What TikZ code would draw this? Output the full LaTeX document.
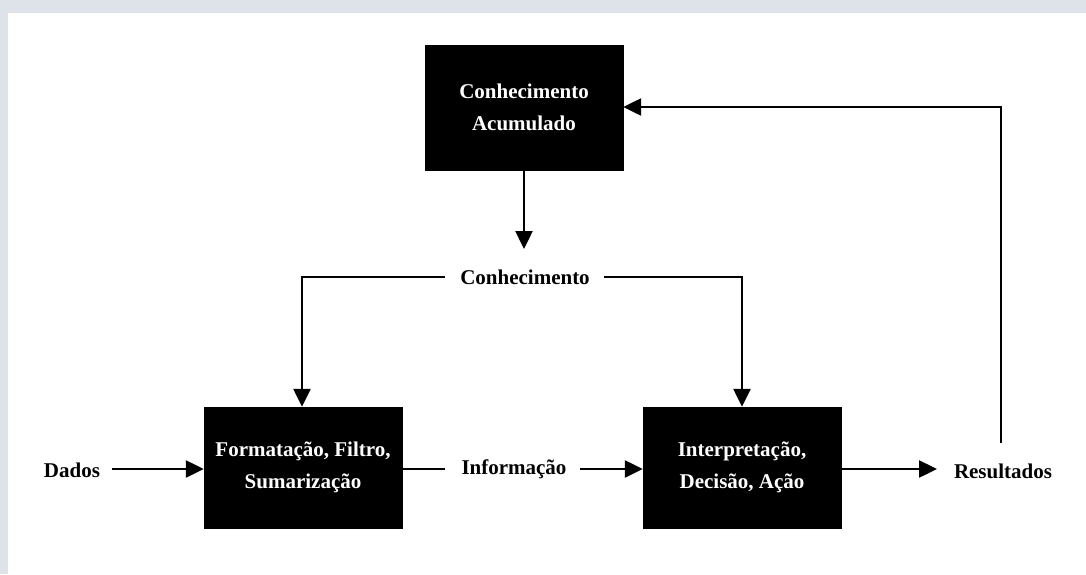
\documentclass[tikz,border=0pt]{standalone}
\usepackage{fontspec}
\setmainfont{Liberation Serif}
\usetikzlibrary{arrows.meta}
\definecolor{framegray}{HTML}{DEE2E9}
\begin{document}
\begin{tikzpicture}[x=1pt,y=-1pt,
  box/.style={fill=black,draw=black,text=white,minimum width=198pt,minimum height=121pt,inner sep=0pt,align=center,font=\fontsize{21}{32}\selectfont\bfseries},
  lbl/.style={inner sep=0pt,font=\fontsize{21}{32}\selectfont\bfseries},
  conn/.style={line width=2.4pt,-{Triangle[length=18pt,width=17pt]}},
  plain/.style={line width=2.4pt}]
\fill[framegray] (0,0) rectangle (1086,574);
\fill[white] (8,13) rectangle (1086,574);
\useasboundingbox (0,0) rectangle (1086,574);

\node[box,minimum height=125pt] (acc) at (524,107.5) {Conhecimento\\Acumulado};
\node[box] (fmt) at (303,467.5) {Formatação, Filtro,\\Sumarização};
\node[box] (itp) at (742,467.5) {Interpretação,\\Decisão, Ação};

\node[lbl] (con) at (525,277) {Conhecimento};
\node[lbl] (dad) at (72,470) {Dados};
\node[lbl] (inf) at (514,469) {Informação};
\node[lbl] (res) at (1003,471) {Resultados};

\coordinate (cl) at (445,277);
\coordinate (cr) at (604,277);
\coordinate (cl2) at (302,277);
\coordinate (cr2) at (742,277);
\coordinate (ctop) at (524,249);
\coordinate (dadr) at (112,469);
\coordinate (infl) at (445,469);
\coordinate (infr) at (580,469);
\coordinate (resl) at (937,469);
\coordinate (rup) at (1001,443);
\coordinate (rtop) at (1001,107);

\draw[conn] (acc.south) -- (ctop);
\draw[conn] (cl) -- (cl2) -- (cl2 |- fmt.north);
\draw[conn] (cr) -- (cr2) -- (cr2 |- itp.north);
\draw[conn] (dadr) -- (dadr -| fmt.west);
\draw[plain] (fmt.east |- infl) -- (infl);
\draw[conn] (infr) -- (infr -| itp.west);
\draw[conn] (itp.east |- resl) -- (resl);
\draw[conn] (rup) -- (rtop) -- (rtop -| acc.east);
\end{tikzpicture}
\end{document}
